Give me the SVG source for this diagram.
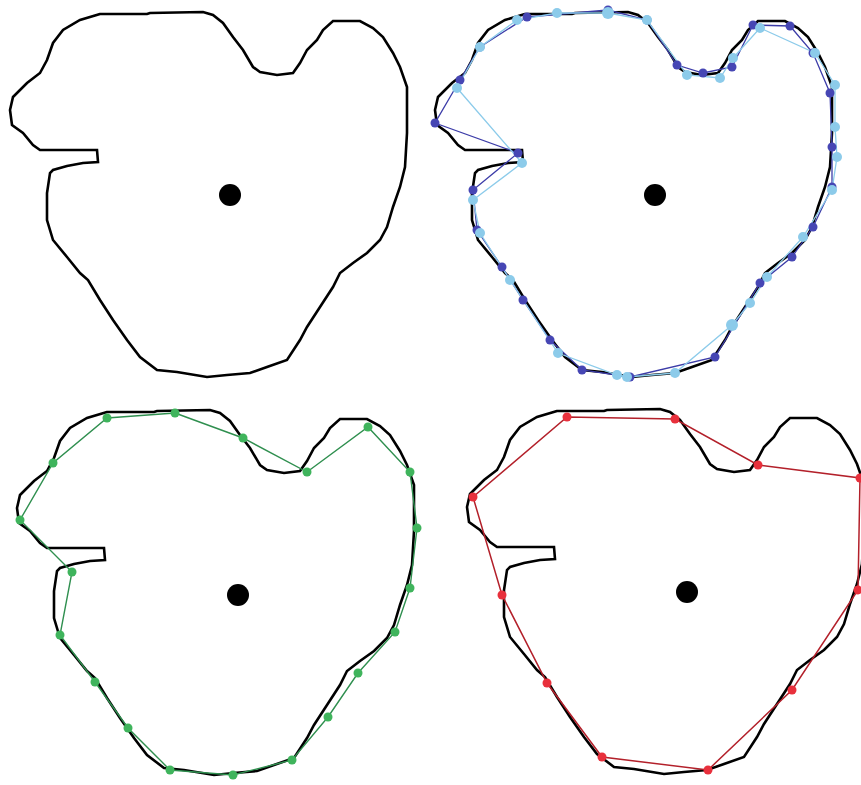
<svg xmlns="http://www.w3.org/2000/svg" xmlns:xlink="http://www.w3.org/1999/xlink" width="861" height="785" viewBox="0 0 861 785">
<style>
.contour{fill:none;stroke:#000;stroke-width:2.6;stroke-linejoin:miter}
.center{fill:#000}
.dblue{fill:none;stroke:#3c3ca8;stroke-width:1.3}
.lblue{fill:none;stroke:#8ccbea;stroke-width:1.3}
.dbdot{fill:#4646b4}
.lbdot{fill:#8ccbea}
.green{fill:none;stroke:#2f8f4f;stroke-width:1.4}
.gdot{fill:#3fb45c}
.red{fill:none;stroke:#b3202a;stroke-width:1.5}
.rdot{fill:#e8303c}
</style>
<defs>
<path id="shape" d="M100,14 L80,20 L63,30 L53,43 L47,60 L40,73 L27,83 L13,97 L10,110 L12,125 L23,133 L33,145 L40,150 L97,150 L98,162 L83,163 L67,166 L53,170 L50,173 L47,193 L47,220 L53,240 L67,257 L80,273 L88,280 L100,300 L113,320 L127,340 L140,357 L157,370 L177,372 L207,377 L227,375 L250,373 L267,367 L287,360 L300,340 L307,327 L320,307 L333,287 L340,273 L353,263 L367,253 L380,240 L387,227 L393,207 L400,187 L405,167 L407,133 L407,87 L400,67 L393,53 L383,37 L373,28 L360,21 L333,21 L323,30 L317,40 L307,50 L300,63 L293,73 L277,75 L260,72 L253,67 L243,50 L233,37 L223,23 L213,15 L203,12 L150,13 L147,14 Z"/>
</defs>
<rect width="861" height="785" fill="#fff"/>

<g id="panel-original">
<use xlink:href="#shape" class="contour"/>
<circle class="center" cx="230" cy="195" r="11"/>
</g>

<g id="panel-blue">
<use xlink:href="#shape" class="contour" transform="translate(425,0)"/>
<polygon class="dblue" points="460,80 435,123 518,153 473,190 477,230 502,267 523,300 550,340 582,370 630,377 715,357 760,283 792,257 813,227 832,187 832,147 830,93 813,53 790,26 753,25 732,67 703,73 677,65 647,20 608,10 527,17 480,47"/>
<polygon class="lblue" points="457,88 522,163 473,200 480,233 510,280 558,353 617,375 627,377 675,373 732,325 750,303 767,277 803,237 832,190 837,157 835,127 835,85 815,53 760,28 733,58 720,78 687,75 647,20 608,13 557,13 517,20 480,47"/>
<g class="dbdot">
<circle cx="460" cy="80" r="4.5"/><circle cx="435" cy="123" r="4.5"/><circle cx="518" cy="153" r="4.5"/><circle cx="473" cy="190" r="4.5"/><circle cx="477" cy="230" r="4.5"/><circle cx="502" cy="267" r="4.5"/><circle cx="523" cy="300" r="4.5"/><circle cx="550" cy="340" r="4.5"/><circle cx="582" cy="370" r="4.5"/><circle cx="630" cy="377" r="4.5"/><circle cx="715" cy="357" r="4.5"/><circle cx="760" cy="283" r="4.5"/><circle cx="792" cy="257" r="4.5"/><circle cx="813" cy="227" r="4.5"/><circle cx="832" cy="187" r="4.5"/><circle cx="832" cy="147" r="4.5"/><circle cx="830" cy="93" r="4.5"/><circle cx="813" cy="53" r="4.5"/><circle cx="790" cy="26" r="4.5"/><circle cx="753" cy="25" r="4.5"/><circle cx="732" cy="67" r="4.5"/><circle cx="703" cy="73" r="4.5"/><circle cx="677" cy="65" r="4.5"/><circle cx="647" cy="20" r="4.5"/><circle cx="608" cy="10" r="4.5"/><circle cx="527" cy="17" r="4.5"/><circle cx="480" cy="47" r="4.5"/>
</g>
<g class="lbdot">
<circle cx="457" cy="88" r="5"/><circle cx="522" cy="163" r="5"/><circle cx="473" cy="200" r="5"/><circle cx="480" cy="233" r="5"/><circle cx="510" cy="280" r="5"/><circle cx="558" cy="353" r="5"/><circle cx="617" cy="375" r="5"/><circle cx="627" cy="377" r="5"/><circle cx="675" cy="373" r="5"/><circle cx="732" cy="325" r="6"/><circle cx="750" cy="303" r="5"/><circle cx="767" cy="277" r="5"/><circle cx="803" cy="237" r="5"/><circle cx="832" cy="190" r="5"/><circle cx="837" cy="157" r="5"/><circle cx="835" cy="127" r="5"/><circle cx="835" cy="85" r="5"/><circle cx="815" cy="53" r="5"/><circle cx="760" cy="28" r="5"/><circle cx="733" cy="58" r="5"/><circle cx="720" cy="78" r="5"/><circle cx="687" cy="75" r="5"/><circle cx="647" cy="20" r="5"/><circle cx="608" cy="13" r="6"/><circle cx="557" cy="13" r="5"/><circle cx="517" cy="20" r="5"/><circle cx="480" cy="47" r="5"/>
</g>
<circle class="center" cx="655" cy="195" r="11"/>
</g>

<g id="panel-green">
<use xlink:href="#shape" class="contour" transform="translate(7,398)"/>
<polygon class="green" points="175,413 243,438 307,472 368,427 410,472 417,528 410,588 395,632 358,673 328,717 292,760 233,775 170,770 128,728 95,682 60,635 72,572 20,520 53,463 107,418"/>
<g class="gdot">
<circle cx="175" cy="413" r="4.5"/><circle cx="243" cy="438" r="4.5"/><circle cx="307" cy="472" r="4.5"/><circle cx="368" cy="427" r="4.5"/><circle cx="410" cy="472" r="4.5"/><circle cx="417" cy="528" r="4.5"/><circle cx="410" cy="588" r="4.5"/><circle cx="395" cy="632" r="4.5"/><circle cx="358" cy="673" r="4.5"/><circle cx="328" cy="717" r="4.5"/><circle cx="292" cy="760" r="4.5"/><circle cx="233" cy="775" r="4.5"/><circle cx="170" cy="770" r="4.5"/><circle cx="128" cy="728" r="4.5"/><circle cx="95" cy="682" r="4.5"/><circle cx="60" cy="635" r="4.5"/><circle cx="72" cy="572" r="4.5"/><circle cx="20" cy="520" r="4.5"/><circle cx="53" cy="463" r="4.5"/><circle cx="107" cy="418" r="4.5"/>
</g>
<circle class="center" cx="238" cy="595" r="11"/>
</g>

<g id="panel-red">
<use xlink:href="#shape" class="contour" transform="translate(457,397)"/>
<polygon class="red" points="567,417 675,419 758,465 860,478 858,590 792,690 708,770 602,757 547,683 502,595 473,497"/>
<g class="rdot">
<circle cx="567" cy="417" r="4.5"/><circle cx="675" cy="419" r="4.5"/><circle cx="758" cy="465" r="4.5"/><circle cx="860" cy="478" r="4.5"/><circle cx="858" cy="590" r="4.5"/><circle cx="792" cy="690" r="4.5"/><circle cx="708" cy="770" r="4.5"/><circle cx="602" cy="757" r="4.5"/><circle cx="547" cy="683" r="4.5"/><circle cx="502" cy="595" r="4.5"/><circle cx="473" cy="497" r="4.5"/>
</g>
<circle class="center" cx="687" cy="592" r="11"/>
</g>
</svg>
